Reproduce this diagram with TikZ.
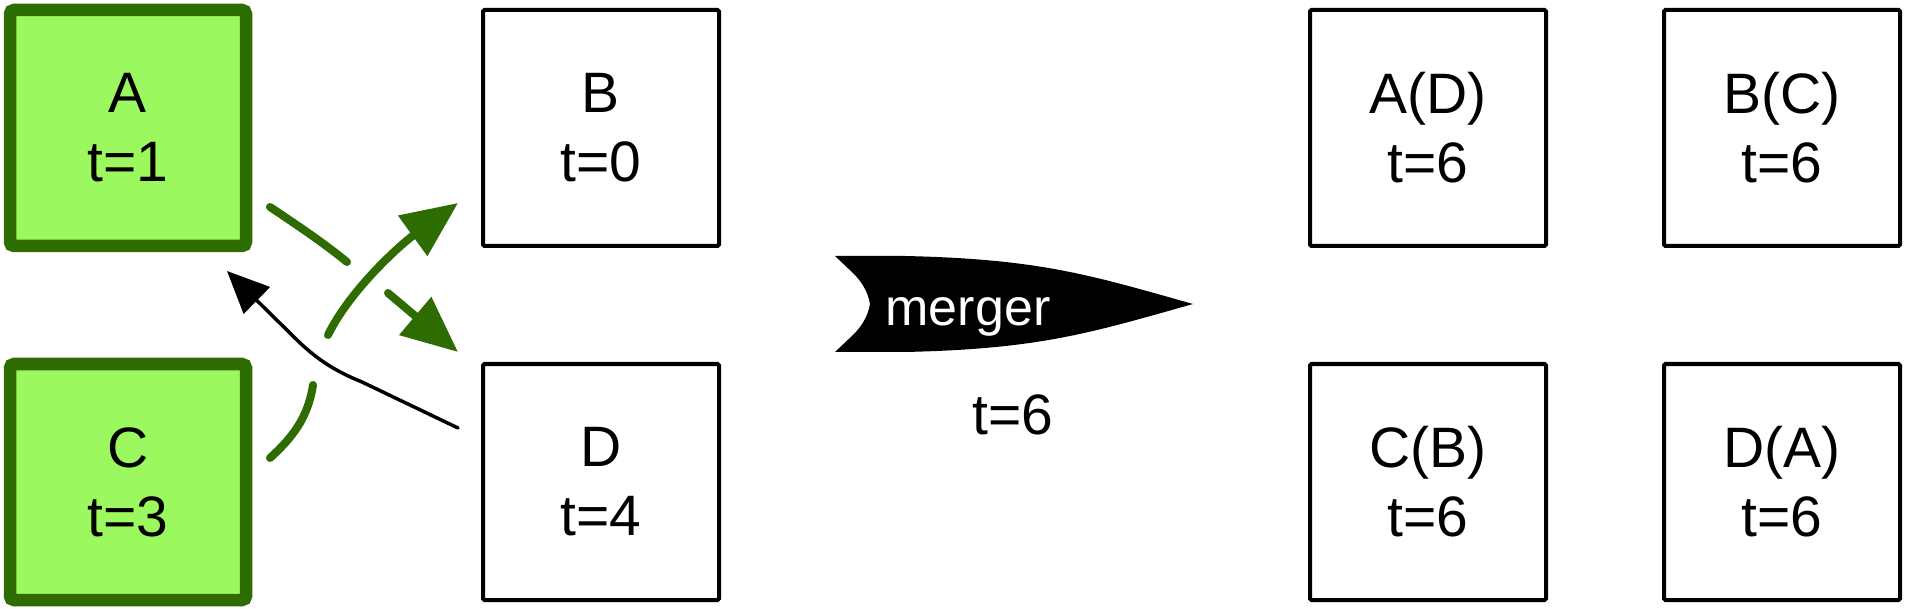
\documentclass[tikz,border=0pt]{standalone}
\usepackage{fontspec}
\setmainfont{Liberation Sans}
\usetikzlibrary{arrows.meta}
\definecolor{gfill}{HTML}{9BF85E}
\definecolor{gdark}{HTML}{2E6B00}
\begin{document}
\begin{tikzpicture}[x=1pt,y=-1pt,
  box/.style={draw=black,line width=4pt,minimum width=236pt,minimum height=236pt,
    inner sep=0pt,align=center,font=\fontsize{57}{69}\selectfont,rounded corners=1.5pt},
  gbox/.style={box,draw=gdark,fill=gfill,line width=12.5pt,rounded corners=4pt},
  gline/.style={draw=gdark,line width=8pt,line cap=round},
  garrow/.style={gline,-{Triangle[length=56pt,width=48pt]}},
  barrow/.style={draw=black,line width=3.5pt,line cap=round,-{Triangle[length=42pt,width=37pt]}},
  lbl/.style={font=\fontsize{57}{69}\selectfont,inner sep=0pt}
]
\useasboundingbox (0,0) rectangle (1908,609);

% boxes
\node[gbox] (A) at (128,128) {A\\t=1};
\node[gbox] (C) at (128,482) {C\\t=3};
\node[box] (B) at (601,128) {B\\t=0};
\node[box] (D) at (601,482) {D\\t=4};
\node[box] (AD) at (1428,128) {A(D)\\t=6};
\node[box] (BC) at (1782,128) {B(C)\\t=6};
\node[box] (CB) at (1428,482) {C(B)\\t=6};
\node[box] (DA) at (1782,482) {D(A)\\t=6};

% connector end points
\coordinate (ad1) at (270,207);
\coordinate (ad2) at (347,262);
\coordinate (ad3) at (388,293);
\coordinate (ad4) at (458,352);
\coordinate (cb1) at (270,458);
\coordinate (cb2) at (313,385);
\coordinate (cb3) at (328,335);
\coordinate (cb4) at (458,203);
\coordinate (da1) at (458,428);
\coordinate (da2) at (227,271);

% black D -> A
\draw[barrow] (da1) -- (362,382) .. controls (335,371) and (318,360) .. (298,341) -- (da2);
% green A -> D (broken)
\draw[gline] (ad1) .. controls (300,227) and (325,244) .. (ad2);
\draw[garrow] (ad3) -- (ad4);
% green C -> B (broken)
\draw[gline] (cb1) .. controls (292,438) and (308,418) .. (cb2);
\draw[garrow] (cb3) .. controls (350,290) and (400,245) .. (cb4);

% merger arrow
\fill[black] (835,256) -- (905,256) .. controls (1040,259) and (1090,275) .. (1193,304)
  .. controls (1090,333) and (1040,349) .. (905,352) -- (835,352) -- (853,335)
  .. controls (862,326) and (868,316) .. (870,304)
  .. controls (868,292) and (862,282) .. (853,273) -- cycle;
\node[lbl,text=white,font=\fontsize{52}{60}\selectfont,anchor=base] (mlabel) at (968,326) {merger};
\node[lbl,anchor=base] (mt) at (1013,434) {t=6};
\end{tikzpicture}
\end{document}
